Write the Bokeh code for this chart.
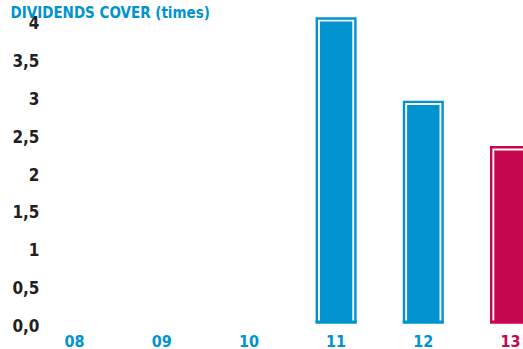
from bokeh.plotting import figure
from bokeh.models import Range1d, ColumnDataSource
from bokeh.core.properties import value
from bokeh.embed import file_html
from bokeh.resources import INLINE

# ---- data ----
categories = ["08", "09", "10", "11", "12", "13"]
values = [None, None, None, 4.0, 2.9, 2.3]
y_ticks = [0, 0.5, 1, 1.5, 2, 2.5, 3, 3.5, 4]
y_tick_labels = ["0,0", "0,5", "1", "1,5", "2", "2,5", "3", "3,5", "4"]
title_text = "DIVIDENDS COVER (times)"

# ---- style ----
BLUE = "#0093cf"
MAGENTA = "#c6074f"
cat_colors = [BLUE, BLUE, BLUE, BLUE, BLUE, MAGENTA]
FONT = value("Liberation Sans Narrow, DejaVu Sans Condensed, Liberation Sans, sans-serif")

W, H = 523, 349
px_x = 87.2          # pixels per category
first_center = 74    # pixel x of first category
px_y = 75.75         # pixels per unit
zero_px = 322        # pixel y of value 0
ux = 1.0 / px_x
uy = 1.0 / px_y

x_start = -first_center * ux
x_end = (W - first_center) * ux
y_start = -(H - zero_px) * uy
y_end = zero_px * uy

p = figure(width=W, height=H, x_range=Range1d(x_start, x_end),
           y_range=Range1d(y_start, y_end),
           toolbar_location=None, output_backend="svg",
           min_border_left=0, min_border_right=0,
           min_border_top=0, min_border_bottom=0)
p.outline_line_color = None
p.xgrid.visible = False
p.ygrid.visible = False
p.xaxis.visible = False
p.yaxis.visible = False

# bars
idx = [i for i, v in enumerate(values) if v is not None]
bv = [values[i] for i in idx]
bc = [cat_colors[i] for i in idx]
bar_w = 41 * ux
frame_px, gap_px = 2.4, 1.9
outer_top = [v + 2.2 * uy for v in bv]
src = ColumnDataSource(dict(
    x=idx, color=bc,
    outer=outer_top,
    white=[t - frame_px * uy for t in outer_top],
    inner=[t - (frame_px + gap_px) * uy for t in outer_top],
))
p.vbar(x="x", width=bar_w, bottom=-1 * uy, top="outer", source=src,
       fill_color="color", line_color=None)
p.vbar(x="x", width=bar_w - 2 * frame_px * ux, bottom=0, top="white", source=src,
       fill_color="white", line_color=None)
p.vbar(x="x", width=bar_w - 2 * (frame_px + gap_px) * ux, bottom=0, top="inner",
       source=src, fill_color="color", line_color=None)
p.vbar(x="x", width=bar_w, bottom=-1 * uy, top=2 * uy, source=src,
       fill_color="color", line_color=None)

# y tick labels
ysrc = ColumnDataSource(dict(y=y_ticks, text=y_tick_labels,
                             x=[(39 - first_center) * ux] * len(y_ticks)))
p.text(x="x", y="y", text="text", source=ysrc, text_align="right",
       text_baseline="middle", y_offset=3, text_font=FONT,
       text_font_style="bold", text_font_size="17px", text_color="#231f20")

# category labels
csrc = ColumnDataSource(dict(x=list(range(len(categories))),
                             y=[(zero_px - 340) * uy] * len(categories),
                             text=categories, color=cat_colors))
p.text(x="x", y="y", text="text", source=csrc, text_color="color",
       text_align="center", text_baseline="middle", text_font=FONT,
       text_font_style="bold", text_font_size="16px")

# title
p.text(x=[(10 - first_center) * ux], y=[(zero_px - 12) * uy], text=[title_text],
       text_color=BLUE, text_baseline="alphabetic", text_align="left",
       text_font=FONT, text_font_style="bold", text_font_size="15px")

open("out.html", "w").write(file_html(p, INLINE))
